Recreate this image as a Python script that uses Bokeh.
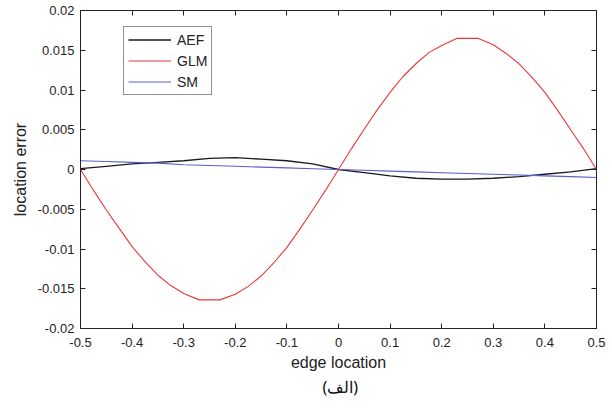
from bokeh.plotting import figure
from bokeh.models import (FixedTicker, LinearAxis, Range1d, Legend, LegendItem,
                          CustomJSTickFormatter, Title)
from bokeh.embed import file_html
from bokeh.resources import INLINE

# ---- data ----
x_grid = [-0.5, -0.45, -0.4, -0.35, -0.3, -0.25, -0.2, -0.15, -0.1, -0.05, 0.0,
          0.05, 0.1, 0.15, 0.2, 0.25, 0.3, 0.35, 0.4, 0.45, 0.5]
aef = [0.0001, 0.0004, 0.0007, 0.0009, 0.0011, 0.0014, 0.0015, 0.0013, 0.0011, 0.0007, 0.0000,
       -0.0004, -0.0008, -0.0011, -0.0012, -0.0012, -0.0011, -0.0009, -0.0006, -0.0003, 0.0001]
sm = [0.0011, 0.0010, 0.0009, 0.0008, 0.0006, 0.0005, 0.0004, 0.0003, 0.0002, 0.0001, 0.0000,
      -0.0001, -0.0002, -0.0003, -0.0004, -0.0005, -0.0006, -0.0007, -0.0008, -0.0009, -0.0010]
glm_x = [-0.5, -0.475, -0.45, -0.425, -0.4, -0.375, -0.35, -0.325, -0.3, -0.27, -0.23, -0.2,
         -0.175, -0.15, -0.125, -0.1, -0.075, -0.05, -0.025, 0.0,
         0.025, 0.05, 0.075, 0.1, 0.125, 0.15, 0.175, 0.2, 0.23, 0.27, 0.3,
         0.325, 0.35, 0.375, 0.4, 0.425, 0.45, 0.475, 0.5]
glm = [0.0, -0.0026, -0.0051, -0.0074, -0.0097, -0.0116, -0.0133, -0.0146, -0.0156, -0.0164, -0.0164, -0.0157,
       -0.0147, -0.0134, -0.0117, -0.0098, -0.0075, -0.0051, -0.0026, 0.0,
       0.0026, 0.0051, 0.0075, 0.0097, 0.0117, 0.0133, 0.0147, 0.0156, 0.0165, 0.0165, 0.0157,
       0.0146, 0.0133, 0.0116, 0.0097, 0.0074, 0.0050, 0.0026, 0.0]

x_ticks = [-0.5, -0.4, -0.3, -0.2, -0.1, 0.0, 0.1, 0.2, 0.3, 0.4, 0.5]
y_ticks = [-0.02, -0.015, -0.01, -0.005, 0.0, 0.005, 0.01, 0.015, 0.02]
series_names = ["AEF", "GLM", "SM"]
x_label = "edge location"
y_label = "location error"
caption = "(الف)"

FONT = "Liberation Sans"
fmt = CustomJSTickFormatter(code="return String(parseFloat(tick.toFixed(4)));")

p = figure(width=612, height=408, output_backend="svg", toolbar_location=None,
           x_range=Range1d(-0.5, 0.5), y_range=Range1d(-0.02, 0.02),
           min_border_left=80, min_border_right=16, min_border_top=10, min_border_bottom=80,
           x_axis_label=x_label, y_axis_label=y_label)
p.grid.visible = False
p.outline_line_color = "#222222"
p.outline_line_width = 1
p.background_fill_color = "white"
p.border_fill_color = "white"

for ax, ticks in ((p.xaxis[0], x_ticks), (p.yaxis[0], y_ticks)):
    ax.ticker = FixedTicker(ticks=ticks)
    ax.formatter = fmt
    ax.major_tick_in = 5
    ax.major_tick_out = 0
    ax.minor_tick_line_color = None
    ax.axis_line_color = "#222222"
    ax.major_tick_line_color = "#222222"
    ax.major_label_text_font = FONT
    ax.major_label_text_font_size = "13px"
    ax.major_label_text_color = "#222222"
    ax.axis_label_text_font = FONT
    ax.axis_label_text_font_size = "16px"
    ax.axis_label_text_font_style = "normal"
    ax.axis_label_text_color = "#222222"

p.xaxis[0].major_label_standoff = 9
p.xaxis[0].axis_label_standoff = 4
p.yaxis[0].major_label_standoff = 6
p.yaxis[0].axis_label_standoff = 6

# top / right axes carrying only inward ticks (MATLAB box style)
for side, ticks in (("above", x_ticks), ("right", y_ticks)):
    ax = LinearAxis(ticker=FixedTicker(ticks=ticks), major_tick_in=5, major_tick_out=0,
                    minor_tick_line_color=None, major_label_text_font_size="0px",
                    major_label_text_color=None,
                    major_label_standoff=0, axis_line_color="#222222",
                    major_tick_line_color="#222222")
    p.add_layout(ax, side)

r_aef = p.line(x_grid, aef, line_color="#1a1a1a", line_width=1.3)
r_glm = p.line(glm_x, glm, line_color="#e8383a", line_width=1.1)
r_sm = p.line(x_grid, sm, line_color="#5c5cd0", line_width=1.1)

legend = Legend(items=[LegendItem(label=series_names[0], renderers=[r_aef]),
                       LegendItem(label=series_names[1], renderers=[r_glm]),
                       LegendItem(label=series_names[2], renderers=[r_sm])],
                location=(43, 233), glyph_width=43, glyph_height=17, label_height=17,
                spacing=4, padding=4, label_standoff=6, label_text_font=FONT,
                label_text_font_size="14px", label_text_color="#222222",
                border_line_color="#222222", border_line_width=1,
                background_fill_color="white", background_fill_alpha=1.0)
p.add_layout(legend, "center")

p.add_layout(Title(text=caption, align="left", text_font="Noto Sans",
                   text_font_size="16px", text_font_style="normal",
                   text_color="#111111", offset=242, standoff=0), "below")

open("out.html", "w").write(file_html(p, INLINE))
